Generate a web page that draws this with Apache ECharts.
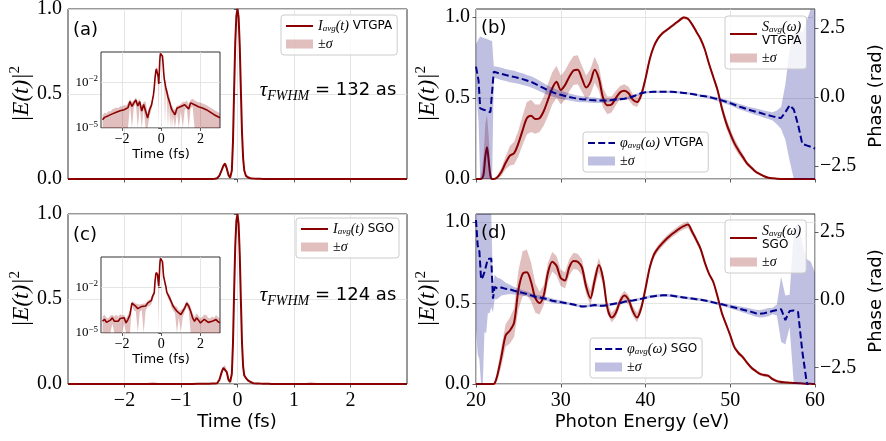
<!DOCTYPE html>
<html>
<head>
<meta charset="utf-8">
<title>Reconstructed attosecond pulses: VTGPA vs SGO</title>
<script src="https://cdn.jsdelivr.net/npm/echarts@6/dist/echarts.min.js"></script>
<style>
  html, body { margin: 0; padding: 0; background: #fff; }
  #chart { width: 886px; height: 441px; }
</style>
</head>
<body>
<div id="chart"></div>
<script>
// ---- temporal profiles (time in fs, normalised intensity) ----
const timeFs = [
  -3.0,-2.9,-2.8,-2.7,-2.6,-2.5,-2.4,-2.3,-2.2,-2.1,-2.0,-1.9,-1.8,-1.7,-1.6,-1.5,-1.4,-1.3,-1.2,-1.1,-1.0,-0.9,-0.8,-0.7,-0.6,-0.5,
  -0.45,-0.4,-0.36,-0.32,-0.28,-0.25,-0.22,-0.19,-0.16,-0.13,-0.1,-0.08,-0.06,-0.04,-0.02,
  0,
  0.02,0.04,0.06,0.08,0.1,0.12,0.15,0.19,0.23,0.28,0.34,0.4,0.45,0.5,0.55,0.6,
  0.7,0.8,0.9,1.0,1.1,1.2,1.3,1.4,1.5,1.6,1.7,1.8,1.9,2.0,2.1,2.2,2.3,2.4,2.5,2.6,2.7,2.8,2.9,3.0
];
const intensityVTGPA = [
  3.5e-5,5e-5,4.5e-5,6.5e-5,6e-5,8.5e-5,9.5e-5,1.1e-4,1e-4,1.35e-4,1.3e-4,1.6e-4,1.5e-4,2.2e-4,5.5e-4,2.6e-4,4.5e-4,7e-4,2.8e-4,5.5e-4,1.3e-4,3.5e-4,2.8e-4,4.5e-5,1.6e-4,3.2e-4,
  7e-4,1.5e-3,4.3e-3,0.02,0.052,0.078,0.09,0.062,0.024,0.008,0.05,0.22,0.52,0.8,0.96,
  1.0,
  0.95,0.78,0.52,0.27,0.12,0.05,0.018,0.009,0.0045,2.6e-3,1.1e-3,9e-4,4e-4,2.2e-4,1.5e-4,1.3e-4,
  7.5e-5,2e-4,1.5e-4,2.6e-4,2.7e-4,3.4e-4,4.2e-4,1.8e-4,4.5e-4,5.5e-4,3.4e-4,2.8e-4,2.5e-4,2.3e-4,2.1e-4,1.8e-4,1.6e-4,1.35e-4,1.1e-4,9.5e-5,7.5e-5,6.5e-5,5.5e-5,4.6e-5
];
const sigmaIntensityVTGPA = [
  3.5e-5,5e-5,4.5e-5,6.5e-5,6e-5,8.5e-5,9.5e-5,1.1e-4,1e-4,1.35e-4,1.3e-4,1.6e-4,1.5e-4,2.2e-4,2.5e-4,2.6e-4,2.2e-4,3e-4,2.8e-4,3e-4,1.3e-4,1.8e-4,2.8e-4,4.5e-5,1e-4,1.6e-4,
  3e-4,6e-4,1.5e-3,5e-3,0.01,0.012,0.012,0.01,0.01,0.008,0.012,0.02,0.025,0.02,0.012,
  0.01,
  0.012,0.02,0.025,0.02,0.02,0.015,0.008,0.009,0.002,1.2e-3,1.1e-3,4e-4,4e-4,1.2e-4,1.5e-4,7e-5,
  7.5e-5,1e-4,1.5e-4,1.4e-4,2.7e-4,1.8e-4,2.2e-4,1.8e-4,2.5e-4,3e-4,3.4e-4,2.8e-4,2.5e-4,2.3e-4,2.1e-4,1.8e-4,1.6e-4,1.35e-4,1.1e-4,9.5e-5,7.5e-5,6.5e-5,5.5e-5,4.6e-5
];
const intensitySGO = [
  5.9e-5,8e-5,5e-5,4.6e-5,7e-5,1e-4,6e-5,8e-5,5.9e-5,9e-5,7e-5,1e-4,4.6e-5,8e-5,1.6e-4,9.3e-4,7e-4,5.6e-4,4e-4,5e-4,5.6e-4,4.4e-4,6e-4,9.3e-4,1.1e-3,1.4e-3,
  2.6e-3,3.3e-3,4.3e-3,0.025,0.07,0.095,0.1,0.07,0.025,0.012,0.06,0.24,0.54,0.81,0.96,
  1.0,
  0.94,0.76,0.49,0.24,0.1,0.05,0.035,0.02,0.012,5e-3,3.3e-3,2.4e-3,2e-3,1.2e-3,9e-4,6e-4,
  4e-4,2.7e-4,2e-4,1.6e-4,2.7e-4,4.5e-4,9.3e-4,6e-4,2.7e-4,1e-4,5.9e-5,1e-4,7e-5,4.6e-5,6e-5,8e-5,7.6e-5,5e-5,4.6e-5,6e-5,5e-5,7.6e-5,5.5e-5,4.6e-5
];
const sigmaIntensitySGO = [
  5.9e-5,8e-5,5e-5,4.6e-5,7e-5,6e-5,6e-5,8e-5,5.9e-5,9e-5,7e-5,6e-5,4.6e-5,8e-5,1.6e-4,3e-4,4e-4,3e-4,4e-4,2.5e-4,2.5e-4,4.4e-4,3e-4,4e-4,5e-4,6e-4,
  1e-3,1.2e-3,2e-3,6e-3,0.01,0.01,0.01,0.01,0.01,0.012,0.01,0.015,0.02,0.015,0.01,
  0.008,
  0.01,0.015,0.02,0.015,0.01,0.01,0.01,0.006,0.004,1.5e-3,1.5e-3,1e-3,1e-3,6e-4,5e-4,3e-4,
  2e-4,2.7e-4,1e-4,1.6e-4,1.5e-4,2e-4,4e-4,3e-4,2.7e-4,1e-4,5.9e-5,1e-4,7e-5,4.6e-5,6e-5,8e-5,7.6e-5,5e-5,4.6e-5,6e-5,5e-5,7.6e-5,5.5e-5,4.6e-5
];

// ---- spectra and spectral phase (photon energy in eV, phase in rad) ----
const energyVTGPA = [
  20.0,20.3,20.5,20.7,20.9,21.1,21.3,21.5,21.7,21.9,22.1,
  22.5,23.0,23.5,24.0,24.5,25.0,25.5,26.0,26.5,27.0,
  27.5,28.0,28.5,29.0,29.5,30.0,30.5,31.0,31.5,32.0,
  32.5,33.0,33.5,34.0,34.5,35.0,35.5,36.0,36.5,37.0,
  37.5,38.0,38.5,39.0,39.5,40.0,40.5,41.0,41.5,42.0,
  42.5,43.0,43.5,44.0,44.5,45.0,45.5,46.0,46.5,47.0,
  47.5,48.0,48.5,49.0,49.5,50.0,50.5,51.0,51.5,52.0,
  52.5,53.0,53.5,54.0,54.5,55.0,55.5,56.0,56.5,57.0,
  57.5,58.0,58.5,59.0,59.5,60.0
];
const spectrumVTGPA = [
  0,0,0,0.003,0.03,0.14,0.196,0.11,0.02,0,0,
  0.01,0.045,0.1,0.144,0.16,0.22,0.30,0.375,0.39,0.37,
  0.375,0.42,0.49,0.56,0.6,0.55,0.58,0.63,0.67,0.675,
  0.62,0.565,0.6,0.675,0.62,0.5,0.455,0.46,0.5,0.535,
  0.545,0.53,0.49,0.475,0.52,0.62,0.74,0.82,0.87,0.9,
  0.92,0.94,0.96,0.98,0.998,0.99,0.955,0.91,0.865,0.8,
  0.71,0.63,0.55,0.44,0.35,0.28,0.22,0.175,0.135,0.095,
  0.07,0.045,0.03,0.017,0.008,0.004,0.002,0,0,0,
  0,0,0,0,0,0
];
const sigmaSpectrumVTGPA = [
  0,0,0.01,0.05,0.12,0.2,0.2,0.15,0.04,0.005,0.005,
  0.01,0.025,0.04,0.06,0.07,0.08,0.09,0.1,0.1,0.09,
  0.085,0.09,0.1,0.1,0.1,0.09,0.09,0.09,0.09,0.09,
  0.08,0.075,0.08,0.08,0.075,0.06,0.055,0.05,0.045,0.04,
  0.04,0.04,0.035,0.03,0.025,0.02,0.015,0.01,0.01,0.01,
  0.01,0.01,0.01,0.01,0.01,0.01,0.01,0.01,0.01,0.01,
  0.012,0.015,0.02,0.025,0.03,0.03,0.028,0.025,0.02,0.015,
  0.012,0.01,0.008,0.005,0.003,0.002,0.002,0,0,0,
  0,0,0,0,0,0
];
const phaseVTGPA = [
  1.1,0.6,-0.41,-0.43,-0.46,-0.48,-0.5,-0.52,-0.55,-0.57,0.92,
  0.88,0.84,0.8,0.76,0.73,0.69,0.65,0.6,0.55,0.48,
  0.4,0.32,0.24,0.18,0.12,0.08,0.04,0.0,-0.03,-0.06,
  -0.08,-0.09,-0.11,-0.12,-0.13,-0.13,-0.12,-0.11,-0.09,-0.08,
  -0.06,-0.03,0.02,0.08,0.14,0.17,0.18,0.19,0.19,0.19,
  0.19,0.19,0.18,0.17,0.15,0.13,0.11,0.08,0.05,0.03,
  0.0,-0.04,-0.08,-0.12,-0.17,-0.22,-0.28,-0.34,-0.39,-0.44,
  -0.49,-0.53,-0.57,-0.62,-0.66,-0.7,-0.74,-0.76,-0.55,-0.3,
  -0.45,-1.0,-1.7,-1.75,-1.8,-1.87
];
const sigmaPhaseVTGPA = [
  0.8,1.5,2.6,2.6,2.6,2.6,2.6,2.6,2.6,2.6,0.2,
  0.22,0.22,0.22,0.22,0.22,0.21,0.21,0.2,0.2,0.2,
  0.19,0.18,0.17,0.16,0.15,0.15,0.14,0.13,0.12,0.12,
  0.11,0.1,0.1,0.1,0.09,0.08,0.07,0.06,0.06,0.05,
  0.05,0.05,0.05,0.05,0.05,0.04,0.04,0.04,0.04,0.04,
  0.04,0.04,0.04,0.04,0.04,0.04,0.04,0.04,0.05,0.05,
  0.06,0.06,0.07,0.07,0.08,0.08,0.09,0.1,0.1,0.1,
  0.11,0.12,0.12,0.13,0.14,0.15,0.25,0.4,1.0,2.0,
  2.8,3.5,4.0,4.5,5.0,5.0
];

const energySGO = [
  20.0,20.2,20.4,20.6,20.8,21.0,21.2,21.4,21.6,21.8,22.0,22.2,
  22.5,23.0,23.5,24.0,24.5,25.0,25.5,26.0,26.5,27.0,
  27.5,28.0,28.5,29.0,29.5,30.0,30.5,31.0,31.5,32.0,
  32.5,33.0,33.5,34.0,34.5,35.0,35.5,36.0,36.5,37.0,
  37.5,38.0,38.5,39.0,39.5,40.0,40.5,41.0,41.5,42.0,
  42.5,43.0,43.5,44.0,44.5,45.0,45.5,46.0,46.5,47.0,
  47.5,48.0,48.5,49.0,49.5,50.0,50.5,51.0,51.5,52.0,
  52.5,53.0,53.5,54.0,54.5,55.0,55.5,56.0,56.5,57.0,
  57.5,58.0,58.5,59.0,59.5,60.0
];
const spectrumSGO = [
  0,0,0,0,0,0,0,0,0,0,0,0.005,
  0.05,0.17,0.3,0.33,0.38,0.58,0.68,0.69,0.63,0.53,
  0.5,0.55,0.69,0.755,0.73,0.655,0.64,0.72,0.76,0.755,
  0.72,0.6,0.53,0.64,0.735,0.65,0.47,0.41,0.44,0.51,
  0.546,0.52,0.45,0.41,0.47,0.59,0.72,0.8,0.84,0.87,
  0.897,0.92,0.94,0.96,0.975,0.985,0.94,0.89,0.835,0.75,
  0.68,0.63,0.54,0.44,0.37,0.3,0.226,0.19,0.165,0.13,
  0.1,0.08,0.062,0.055,0.05,0.03,0.018,0.012,0.01,0.008,
  0.006,0.005,0.003,0.002,0.001,0
];
const sigmaSpectrumSGO = [
  0,0,0,0,0,0,0,0,0,0,0,0.005,
  0.03,0.06,0.07,0.08,0.09,0.12,0.14,0.14,0.12,0.09,
  0.07,0.06,0.06,0.06,0.06,0.05,0.05,0.05,0.05,0.05,
  0.05,0.045,0.045,0.045,0.045,0.04,0.035,0.03,0.03,0.03,
  0.03,0.03,0.03,0.03,0.025,0.02,0.02,0.02,0.02,0.02,
  0.02,0.02,0.02,0.02,0.02,0.02,0.02,0.02,0.015,0.012,
  0.012,0.012,0.012,0.012,0.012,0.012,0.012,0.012,0.012,0.012,
  0.01,0.01,0.01,0.01,0.01,0.01,0.01,0.01,0.005,0.005,
  0.005,0.005,0.005,0.005,0.005,0.005
];
const phaseSGO = [
  2.94,2.0,1.78,0.75,0.84,1.02,0.95,1.5,1.5,1.52,0.04,0.47,
  0.42,0.45,0.4,0.38,0.33,0.29,0.25,0.21,0.16,0.11,
  0.08,0.05,0.01,-0.04,-0.07,-0.09,-0.12,-0.15,-0.18,-0.22,
  -0.25,-0.24,-0.22,-0.2,-0.22,-0.22,-0.2,-0.17,-0.14,-0.12,
  -0.08,-0.05,-0.03,0.0,0.03,0.07,0.11,0.13,0.15,0.16,
  0.16,0.15,0.13,0.1,0.08,0.06,0.04,0.02,0.0,-0.03,
  -0.06,-0.1,-0.14,-0.17,-0.21,-0.25,-0.29,-0.33,-0.37,-0.41,
  -0.45,-0.5,-0.52,-0.5,-0.46,-0.42,-0.38,-0.35,-0.75,-0.42,
  -0.4,-0.45,-1.9,-3.0,-3.6,-4.0
];
const sigmaPhaseSGO = [
  4,4,4,4,4,2.2,2.2,2.0,2.0,1.8,0.5,0.45,
  0.4,0.3,0.22,0.17,0.14,0.12,0.1,0.09,0.08,0.08,
  0.08,0.08,0.08,0.08,0.08,0.07,0.06,0.05,0.05,0.05,
  0.05,0.05,0.05,0.05,0.05,0.05,0.05,0.05,0.05,0.05,
  0.05,0.05,0.05,0.05,0.05,0.05,0.05,0.05,0.05,0.05,
  0.05,0.05,0.05,0.05,0.05,0.05,0.05,0.05,0.05,0.05,
  0.05,0.05,0.05,0.06,0.06,0.07,0.08,0.09,0.1,0.11,
  0.12,0.13,0.14,0.15,0.15,0.12,0.2,1.2,0.9,0.6,
  3.0,3.3,4,4.5,5,5
];

// ---- tick positions ----
const timeTicks = [-2, -1, 0, 1, 2];
const insetTimeTicks = [-2, 0, 2];
const insetLogTicks = [1e-5, 1e-2];
const intensityTicks = [0, 0.5, 1.0];
const energyTicks = [20, 30, 40, 50, 60];
const phaseTicks = [-2.5, 0, 2.5];

// ---- axis ranges ----
const PHASE_RANGE_B = [-2.97, 3.19];
const PHASE_RANGE_D = [-3.11, 3.16];
const LOG_RANGE = [1e-5, 1];

// ---- styling ----
const DARKRED = '#8b0000', DARKBLUE = '#00008b';
const RED_BAND = 'rgba(139,0,0,0.25)', BLUE_BAND = 'rgba(0,0,139,0.25)';
const FRAME = '#333333', GRIDLINE = '#dedede';
const SERIF = 'Liberation Serif', SANS = 'DejaVu Sans';
const MINUS = '\u2212';

const signed = (v, d) => (v < 0 ? MINUS : '') + (d == null ? String(Math.abs(v)) : Math.abs(v).toFixed(d));
const pairs = (xs, ys) => xs.map((x, i) => [x, ys[i]]);

// filled ±sigma envelope drawn as one polygon in data coordinates,
// with its edges held inside the visible y range of the panel
function band(name, xi, yi, xs, ys, sig, color, z, range) {
  const lim = v => range ? Math.min(Math.max(v, range[0]), range[1]) : v;
  const upper = xs.map((x, i) => [x, lim(ys[i] + sig[i])]);
  const lower = xs.map((x, i) => [x, lim(ys[i] - sig[i])]);
  return {
    type: 'custom', name, xAxisIndex: xi, yAxisIndex: yi,
    coordinateSystem: 'cartesian2d', clip: true, silent: true, z,
    itemStyle: { color },
    data: [upper[0]],
    renderItem: (params, api) => {
      const pts = upper.map(p => api.coord(p))
        .concat(lower.slice().reverse().map(p => api.coord(p)));
      return { type: 'polygon', shape: { points: pts }, style: { fill: color } };
    }
  };
}

function curve(name, xi, yi, xs, ys, color, z, opts) {
  opts = opts || {};
  return {
    type: 'line', name, xAxisIndex: xi, yAxisIndex: yi, z,
    data: pairs(xs, ys), symbol: 'none', showSymbol: false, clip: true, silent: true,
    smooth: opts.smooth || false,
    itemStyle: { color },
    lineStyle: { color, width: opts.width || 2, type: opts.dashed ? [7, 3.2] : 'solid' }
  };
}

const tickStyle = { show: true, inside: false, length: 3.5, lineStyle: { color: FRAME, width: 0.8 } };
const splitStyle = { show: true, lineStyle: { color: GRIDLINE, width: 0.8 } };
const mainLabel = { fontFamily: SERIF, fontSize: 20, color: '#000' };

function xAxisMain(gridIndex, min, max, interval, ticks, showLabels, fmt) {
  return {
    type: 'value', gridIndex, min, max, interval,
    axisLine: { show: false },
    axisTick: Object.assign({ customValues: ticks }, tickStyle),
    axisLabel: Object.assign({ show: showLabels, customValues: ticks, margin: 7, formatter: fmt }, mainLabel),
    splitLine: splitStyle
  };
}
function yAxisIntensity(gridIndex, max) {
  return {
    type: 'value', gridIndex, min: 0, max, interval: 0.5,
    axisLine: { show: false },
    axisTick: Object.assign({ customValues: intensityTicks }, tickStyle),
    axisLabel: Object.assign({ customValues: intensityTicks, margin: 6, formatter: v => v.toFixed(1) }, mainLabel),
    splitLine: splitStyle
  };
}
function yAxisPhase(gridIndex, range) {
  return {
    type: 'value', gridIndex, min: range[0], max: range[1], position: 'right',
    axisLine: { show: false },
    axisTick: Object.assign({ customValues: phaseTicks }, tickStyle),
    axisLabel: Object.assign({ customValues: phaseTicks, margin: 5, formatter: v => signed(v, 1) }, mainLabel),
    splitLine: { show: false }
  };
}
const insetRich = {
  b: { fontFamily: SERIF, fontSize: 13, lineHeight: 16, color: '#000' },
  e: { fontFamily: SERIF, fontSize: 9, lineHeight: 9, verticalAlign: 'top', color: '#000' }
};
function xAxisInset(gridIndex) {
  return {
    type: 'value', gridIndex, min: -3.08, max: 3.0, z: 6,
    axisLine: { show: false },
    axisTick: Object.assign({ customValues: insetTimeTicks }, tickStyle, { length: 3 }),
    axisLabel: { customValues: insetTimeTicks, margin: 4, fontFamily: SERIF, fontSize: 14, color: '#000', formatter: v => signed(v) },
    splitLine: splitStyle
  };
}
function yAxisInset(gridIndex) {
  return {
    type: 'log', logBase: 10, gridIndex, min: LOG_RANGE[0], max: LOG_RANGE[1], z: 6,
    axisLine: { show: false },
    axisTick: Object.assign({ customValues: insetLogTicks }, tickStyle, { length: 3 }),
    axisLabel: {
      customValues: insetLogTicks, margin: 3, rich: insetRich,
      formatter: v => '{b|10}{e|' + MINUS + Math.round(-Math.log10(v)) + '}'
    },
    splitLine: splitStyle
  };
}

const legendRich = {
  it: { fontFamily: SERIF, fontStyle: 'italic', fontSize: 14, lineHeight: 14, color: '#000' },
  rm: { fontFamily: SERIF, fontSize: 14, lineHeight: 14, color: '#000' },
  sub: { fontFamily: SERIF, fontStyle: 'italic', fontSize: 9, lineHeight: 8, verticalAlign: 'bottom', color: '#000' },
  sf: { fontFamily: SANS, fontSize: 12, lineHeight: 14, color: '#000' }
};
const legendText = {
  lineA: '{it|I}{sub|avg}{it|(t)}{sf| VTGPA}',
  lineC: '{it|I}{sub|avg}{it|(t)}{sf| SGO}',
  lineB: '{it|S}{sub|avg}{it|(ω)}\n{sf|VTGPA}',
  lineD: '{it|S}{sub|avg}{it|(ω)}\n{sf|SGO}',
  phaseB: '{it|φ}{sub|avg}{it|(ω)}{sf| VTGPA}',
  phaseD: '{it|φ}{sub|avg}{it|(ω)}{sf| SGO}'
};
function legendBox(names, left, top) {
  return {
    // the line entry keeps only its stroke: the marker symbol is made invisible
    data: [{ name: names[0], itemStyle: { opacity: 0 } }, { name: names[1], icon: 'rect' }],
    left, top, orient: 'vertical', z: 10,
    itemWidth: 27, itemHeight: 9, itemGap: 4,
    padding: [4, 5, 4, 4],
    backgroundColor: 'rgba(255,255,255,0.8)', borderColor: '#cccccc', borderWidth: 1, borderRadius: 3,
    selectedMode: false,
    textStyle: { fontFamily: SANS, fontSize: 12, color: '#000', rich: legendRich },
    formatter: n => legendText[n] || '{rm|±}{it|σ}'
  };
}

const labelRich = {
  it: { fontFamily: SERIF, fontStyle: 'italic', fontSize: 23, lineHeight: 28, color: '#000' },
  up: { fontFamily: SERIF, fontSize: 15, lineHeight: 15, verticalAlign: 'top', color: '#000' }
};
const tauRich = {
  it: { fontFamily: SERIF, fontStyle: 'italic', fontSize: 21, lineHeight: 26, color: '#000' },
  sub: { fontFamily: SERIF, fontStyle: 'italic', fontSize: 14, lineHeight: 14, verticalAlign: 'bottom', color: '#000' },
  sf: { fontFamily: SANS, fontSize: 18, lineHeight: 26, color: '#000' }
};
function txt(x, y, text, font, extra, align) {
  return Object.assign({
    type: 'text', x, y, z: 20, silent: true,
    style: Object.assign({ text, align: align || 'center', verticalAlign: 'middle', fill: '#000' }, font)
  }, extra || {});
}
const sans18 = { fontFamily: SANS, fontSize: 18 };
const sans13 = { fontFamily: SANS, fontSize: 13 };
const rot = { rotation: Math.PI / 2 };

const gridBase = { show: true, borderColor: FRAME, borderWidth: 1, outerBoundsMode: 'none', containLabel: false };
const panelGrid = (left, top) => Object.assign({ left, top, width: 339, height: 170, backgroundColor: 'transparent' }, gridBase);
const insetGrid = (top) => Object.assign({ left: 101, top, width: 119, height: 76, backgroundColor: '#ffffff', z: 5 }, gridBase);

const option = {
  animation: false,
  backgroundColor: '#ffffff',
  grid: [panelGrid(68, 9), panelGrid(476, 9), panelGrid(68, 214), panelGrid(476, 214), insetGrid(52), insetGrid(257)],
  xAxis: [
    xAxisMain(0, -3, 3, 1, timeTicks, false),
    xAxisMain(1, 20, 60, 10, energyTicks, false),
    xAxisMain(2, -3, 3, 1, timeTicks, true, v => signed(v)),
    xAxisMain(3, 20, 60, 10, energyTicks, true, v => String(v)),
    xAxisInset(4),
    xAxisInset(5)
  ],
  yAxis: [
    yAxisIntensity(0, 1.0),
    yAxisIntensity(1, 1.05),
    yAxisPhase(1, PHASE_RANGE_B),
    yAxisIntensity(2, 1.0),
    yAxisIntensity(3, 1.05),
    yAxisPhase(3, PHASE_RANGE_D),
    yAxisInset(4),
    yAxisInset(5)
  ],
  legend: [
    legendBox(['lineA', 'bandA'], 281, 15),
    legendBox(['lineB', 'bandB'], 725, 16),
    legendBox(['phaseB', 'pbandB'], 583, 132),
    legendBox(['lineC', 'bandC'], 296, 218),
    legendBox(['lineD', 'bandD'], 725, 220),
    legendBox(['phaseD', 'pbandD'], 590, 338)
  ],
  series: [
    // (a) VTGPA temporal intensity
    band('bandA', 0, 0, timeFs, intensityVTGPA, sigmaIntensityVTGPA, RED_BAND, 1, [0, 1.0]),
    curve('lineA', 0, 0, timeFs, intensityVTGPA, DARKRED, 2),
    band('insetBandA', 4, 6, timeFs, intensityVTGPA, sigmaIntensityVTGPA, RED_BAND, 7, LOG_RANGE),
    curve('insetLineA', 4, 6, timeFs, intensityVTGPA, DARKRED, 8, { width: 1.6 }),
    // (b) VTGPA spectrum and phase
    band('bandB', 1, 1, energyVTGPA, spectrumVTGPA, sigmaSpectrumVTGPA, RED_BAND, 1, [0, 1.05]),
    curve('lineB', 1, 1, energyVTGPA, spectrumVTGPA, DARKRED, 2, { smooth: 0.3 }),
    band('pbandB', 1, 2, energyVTGPA, phaseVTGPA, sigmaPhaseVTGPA, BLUE_BAND, 3, PHASE_RANGE_B),
    curve('phaseB', 1, 2, energyVTGPA, phaseVTGPA, DARKBLUE, 4, { dashed: true }),
    // (c) SGO temporal intensity
    band('bandC', 2, 3, timeFs, intensitySGO, sigmaIntensitySGO, RED_BAND, 1, [0, 1.0]),
    curve('lineC', 2, 3, timeFs, intensitySGO, DARKRED, 2),
    band('insetBandC', 5, 7, timeFs, intensitySGO, sigmaIntensitySGO, RED_BAND, 7, LOG_RANGE),
    curve('insetLineC', 5, 7, timeFs, intensitySGO, DARKRED, 8, { width: 1.6 }),
    // (d) SGO spectrum and phase
    band('bandD', 3, 4, energySGO, spectrumSGO, sigmaSpectrumSGO, RED_BAND, 1, [0, 1.05]),
    curve('lineD', 3, 4, energySGO, spectrumSGO, DARKRED, 2, { smooth: 0.3 }),
    band('pbandD', 3, 5, energySGO, phaseSGO, sigmaPhaseSGO, BLUE_BAND, 3, PHASE_RANGE_D),
    curve('phaseD', 3, 5, energySGO, phaseSGO, DARKBLUE, 4, { dashed: true })
  ],
  graphic: { elements: [
    txt(22, 94, '{it||E(t)|}{up|2}', { rich: labelRich }, rot),
    txt(22, 299, '{it||E(t)|}{up|2}', { rich: labelRich }, rot),
    txt(428, 94, '{it||E(t)|}{up|2}', { rich: labelRich }, rot),
    txt(428, 299, '{it||E(t)|}{up|2}', { rich: labelRich }, rot),
    txt(876, 96, 'Phase (rad)', sans18, rot),
    txt(876, 301, 'Phase (rad)', sans18, rot),
    txt(237, 422, 'Time (fs)', sans18),
    txt(642, 422, 'Photon Energy (eV)', sans18),
    txt(161, 155, 'Time (fs)', sans13),
    txt(161, 360, 'Time (fs)', sans13),
    txt(73, 30, '(a)', sans18, null, 'left'),
    txt(481, 28, '(b)', sans18, null, 'left'),
    txt(73, 235, '(c)', sans18, null, 'left'),
    txt(481, 233, '(d)', sans18, null, 'left'),
    txt(328, 90, '{it|τ}{sub|FWHM}{sf| = 132 as}', { rich: tauRich }),
    txt(328, 295, '{it|τ}{sub|FWHM}{sf| = 124 as}', { rich: tauRich })
  ] }
};

const chart = echarts.init(document.getElementById('chart'), null, { renderer: 'canvas' });
chart.setOption(option);
</script>
</body>
</html>
